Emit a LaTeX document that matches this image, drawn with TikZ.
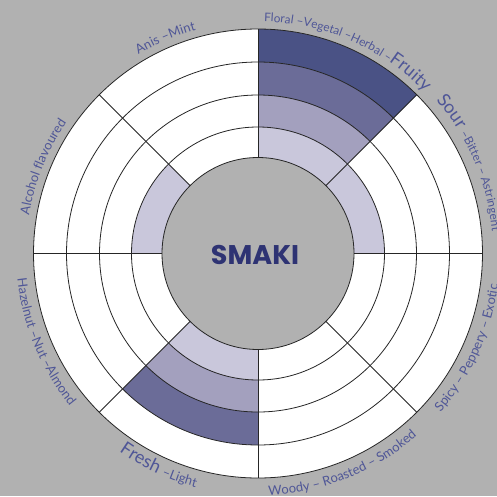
\documentclass[tikz,border=0pt]{standalone}
\usepackage{fontspec}
\setmainfont{Lato}
\newfontfamily\smakifont{Poppins}
\usetikzlibrary{decorations.text}
\definecolor{bggray}{HTML}{B1B1B1}
\definecolor{lavone}{HTML}{C9C7DB}
\definecolor{lavtwo}{HTML}{A3A0BE}
\definecolor{lavthree}{HTML}{6B6C98}
\definecolor{lavfour}{HTML}{4A5285}
\definecolor{labelblue}{HTML}{4F5697}
\definecolor{smakiblue}{HTML}{2E3373}
\newcommand{\lblsmall}{\fontsize{13}{15}\selectfont\color{labelblue}}
\newcommand{\lbltight}{\fontsize{11.8}{14}\selectfont\color{labelblue}}
\newcommand{\lblbig}{\fontsize{18}{20}\selectfont\color{labelblue}}
\tikzset{
	ringline/.style = {draw = black!85, line width = 0.8pt},
	wheellabel/.style = {decorate, decoration = {text along path, text = {#1}}}
}

\begin{document}
\begin{tikzpicture}[x = 1pt, y = 1pt]
		\clip (-258,-242.5) rectangle (239,253.5);
		\fill[bggray] (-258,-242.5) rectangle (239,253.5);
		% wheel
		\fill[white] (0,0) circle[radius = 224.5];
		\foreach \a/\rin/\rout/\col in {0/96/126.5/lavone, 45/96/126.5/lavone, 45/126.5/158.5/lavtwo, 45/158.5/191.5/lavthree, 45/191.5/224.5/lavfour, 135/96/126.5/lavone, 225/96/126.5/lavone, 225/126.5/158.5/lavtwo, 225/158.5/191.5/lavthree}
			\fill[\col] (\a:\rin) arc[start angle = \a, end angle = \a+45, radius = \rin] -- (\a+45:\rout) arc[start angle = \a+45, end angle = \a, radius = \rout] -- cycle;
		\fill[bggray] (0,0) circle[radius = 96];
		\foreach \r in {96, 126.5, 158.5, 191.5, 224.5}
			\draw[ringline] (0,0) circle[radius = \r];
		\foreach \a in {0, 45, ..., 315}
			\draw[ringline] (\a:96) -- (\a:224.5);
		\node[text = smakiblue, font = \smakifont\bfseries\fontsize{27}{30}\selectfont] (smaki) at (-3,-1.5) {SMAKI};
		% labels, upper half clockwise
		\path[wheellabel = {|\lblsmall|Anis –Mint}] (121:232) arc[start angle = 121, end angle = 60, radius = 232];
		\path[wheellabel = {|\lblsmall|Alcohol flavoured}] (170.5:232) arc[start angle = 170.5, end angle = 100, radius = 232];
		\path[wheellabel = {|\lbltight|Floral –Vegetal –Herbal –|\lblbig|Fruity}] (88.5:232) arc[start angle = 88.5, end angle = 20, radius = 232];
		\path[wheellabel = {|\lblbig|Sour |\lbltight|–Bitter – Astringent}] (40.7:235) arc[start angle = 40.7, end angle = -30, radius = 235];
		% labels, lower half anticlockwise
		\path[wheellabel = {|\lblsmall|Hazelnut –Nut –Almond}] (186:242) arc[start angle = 186, end angle = 250, radius = 242];
		\path[wheellabel = {|\lblbig|Fresh |\lblsmall|–Light}] (235:242) arc[start angle = 235, end angle = 290, radius = 242];
		\path[wheellabel = {|\lblsmall|Woody – Roasted – Smoked}] (272.5:242) arc[start angle = 272.5, end angle = 330, radius = 242];
		\path[wheellabel = {|\lblsmall|Spicy – Peppery – Exotic}] (319:242) arc[start angle = 319, end angle = 380, radius = 242];
	\end{tikzpicture}
\end{document}
